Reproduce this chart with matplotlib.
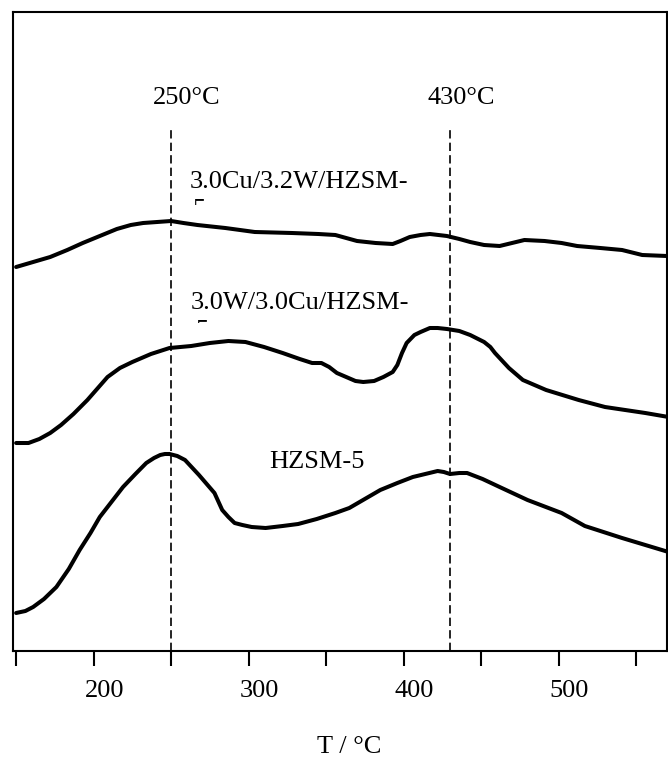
import matplotlib
matplotlib.use('Agg')
import matplotlib.pyplot as plt
from matplotlib.transforms import ScaledTranslation, Bbox

# temperatures (deg C) and signal (arbitrary units)
t_cuw = [150, 161, 172, 183, 193, 204, 215, 224, 232, 241, 250, 258, 267,
         285, 304, 328, 345, 356, 363, 370, 382, 393, 398, 404, 411, 417,
         428, 436, 443, 452, 462, 470, 478, 491, 502, 512, 527, 541, 554,
         570]
i_cuw = [384, 389, 394, 401, 408, 415, 422, 426, 428, 429, 430, 428, 426,
         423, 419, 418, 417, 416, 413, 410, 408, 407, 410, 414, 416, 417,
         415, 412, 409, 406, 405, 408, 411, 410, 408, 405, 403, 401, 396,
         395]

t_wcu = [150, 158, 165, 172, 179, 187, 196, 209, 217, 225, 237, 249, 263,
         275, 287, 298, 310, 322, 333, 341, 347, 352, 357, 363, 369, 374,
         381, 387, 393, 396, 399, 402, 407, 411, 417, 422, 428, 436, 443,
         452, 456, 459, 468, 477, 492, 513, 530, 556, 571]
i_wcu = [208, 208, 212, 218, 226, 237, 251, 274, 283, 289, 297, 303, 305,
         308, 310, 309, 304, 298, 292, 288, 288, 284, 278, 274, 270, 269,
         270, 274, 279, 286, 298, 308, 316, 319, 323, 323, 322, 320, 316,
         309, 304, 298, 283, 271, 261, 251, 244, 238, 234]

t_hz = [150, 156, 161, 168, 176, 184, 191, 198, 204, 212, 219, 227, 234,
        239, 243, 246, 249, 254, 259, 268, 278, 283, 287, 291, 296, 302,
        311, 322, 332, 344, 356, 365, 375, 385, 396, 406, 414, 422, 426,
        430, 436, 441, 451, 462, 480, 502, 517, 541, 571]
i_hz = [38, 40, 44, 52, 64, 82, 101, 118, 134, 150, 164, 177, 188,
        193, 196, 197, 197, 195, 191, 176, 158, 141, 134, 128, 126, 124,
        123, 125, 127, 132, 138, 143, 152, 161, 168, 174, 177, 180, 179,
        177, 178, 178, 172, 164, 151, 138, 125, 113, 99]

peaks = [250, 430]
peak_labels = ['250°C', '430°C']
xticks = [150, 200, 250, 300, 350, 400, 450, 500, 550]
xticklabels = ['', '200', '', '300', '', '400', '', '500', '']

plt.rcParams['font.family'] = ['Liberation Serif', 'DejaVu Serif']

fig = plt.figure(figsize=(6.68, 7.59), dpi=100)
ax = fig.add_axes([13 / 668, 1 - 651 / 759, 654 / 668, 639 / 759])
ax.set_xlim(148, 570)
ax.set_ylim(0, 639)

for t, i in [(t_cuw, i_cuw), (t_wcu, i_wcu), (t_hz, i_hz)]:
    ax.plot(t, i, color='black', lw=2.9, solid_joinstyle='round',
            solid_capstyle='round')

# peak position markers
for p, lab, dx in zip(peaks, peak_labels, [10, 7]):
    ax.plot([p, p], [0, 521], color='black', lw=1.2, dashes=(5, 2.5))
    ax.text(p + dx, 553, lab, fontsize=19, ha='center', va='center')

ax.text(262, 469, '3.0Cu/3.2W/HZSM-', fontsize=19, ha='left', va='center')
ax.text(262.6, 348, '3.0W/3.0Cu/HZSM-', fontsize=19, ha='left', va='center')
ax.text(344, 189, 'HZSM-5', fontsize=19, ha='center', va='center')

# the wrapped "5" of the long labels is cut off in the original
for x5, y5, keep in [(264, 452, 6), (265.5, 331, 3)]:
    t5 = ax.text(x5, y5, '5', fontsize=19, ha='left', va='top')
    px, py = ax.transData.transform((x5, y5))
    t5.set_clip_box(Bbox([[px - 5, py - keep], [px + 20, py + 5]]))
    t5.set_clip_on(True)

ax.set_yticks([])
ax.set_xticks(xticks)
ax.set_xticklabels(xticklabels, fontsize=19)
ax.tick_params(axis='x', direction='out', length=11, width=1.5, pad=10)
for lab in ax.get_xticklabels():
    lab.set_transform(lab.get_transform() +
                      ScaledTranslation(0.11, 0, fig.dpi_scale_trans))
for s in ax.spines.values():
    s.set_linewidth(1.5)

ax.set_xlabel('T / °C', fontsize=19, va='center')
ax.xaxis.set_label_coords(0.514, -0.150)

fig.savefig('out.png', dpi=100)
